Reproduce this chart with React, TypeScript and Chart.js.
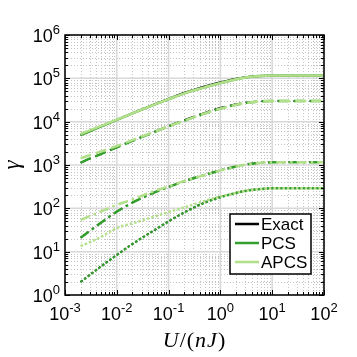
import React, { useEffect, useRef } from "react";
import { Chart, registerables } from "chart.js";
Chart.register(...registerables);

const X_VALUES = [0.002, 0.003, 0.005, 0.01, 0.02, 0.05, 0.1, 0.2, 0.5, 1, 2, 3, 5, 10, 20, 50, 100];

const SOLID_EXACT = [4900, 6000, 7800, 11000, 15600, 24500, 34000, 47000, 66000, 82000, 99000, 107000, 113000, 117000, 117000, 117000, 117000];
const SOLID_PCS = [4900, 6000, 7800, 11000, 15500, 24000, 33000, 45000, 62000, 78000, 95000, 104000, 112000, 117000, 117000, 117000, 117000];
const SOLID_APCS = [5200, 6300, 8000, 11100, 15600, 24000, 33000, 45000, 62000, 78000, 95000, 104000, 112000, 117000, 117000, 117000, 117000];

const DASHED_EXACT = [1130, 1400, 1800, 2560, 3620, 5700, 8000, 10900, 16200, 21000, 25500, 27800, 29400, 30000, 30000, 30000, 30000];
const DASHED_PCS = [1130, 1400, 1800, 2550, 3600, 5600, 7800, 10500, 15500, 20000, 24500, 27000, 29000, 30000, 30000, 30000, 30000];
const DASHED_APCS = [1430, 1680, 2050, 2750, 3750, 5700, 7800, 10500, 15500, 20000, 24500, 27000, 29000, 30000, 30000, 30000, 30000];

const DASHDOT_EXACT = [21, 30, 47, 84, 135, 226, 312, 424, 598, 760, 930, 1030, 1105, 1150, 1150, 1150, 1150];
const DASHDOT_PCS = [21, 30, 47, 84, 135, 225, 310, 420, 590, 750, 920, 1020, 1100, 1150, 1150, 1150, 1150];
const DASHDOT_APCS = [54, 66, 85, 120, 160, 245, 320, 425, 590, 750, 920, 1020, 1100, 1150, 1150, 1150, 1150];

const DOTTED_EXACT = [2.0, 2.9, 4.6, 8.4, 15, 30, 50, 81, 137, 183, 228, 254, 274, 290, 290, 290, 290];
const DOTTED_PCS = [2.0, 2.9, 4.6, 8.4, 15, 30, 50, 80, 135, 180, 225, 252, 272, 290, 290, 290, 290];
const DOTTED_APCS = [13.5, 16.5, 22, 35, 45, 63, 82, 105, 148, 188, 228, 254, 273, 290, 290, 290, 290];

const X_TICK_EXPONENTS = [-3, -2, -1, 0, 1, 2];
const Y_TICK_EXPONENTS = [0, 1, 2, 3, 4, 5, 6];
const LEGEND_LABELS = ["Exact", "PCS", "APCS"];
const Y_TITLE = "γ";
const X_TITLE_PARTS: [string, boolean][] = [["U", true], ["/", false], ["(", false], ["n", true], ["J", true], [")", false]];

const C_EXACT = "#000000";
const C_PCS = "#33a02c";
const C_APCS = "#b2df8a";
const LEGEND_COLORS = [C_EXACT, C_PCS, C_APCS];

const SANS = '"Liberation Sans", Arial, Helvetica, sans-serif';
const SERIF = '"Liberation Serif", "Times New Roman", serif';

function pts(ys: number[]) {
  return X_VALUES.map((x, i) => ({ x, y: ys[i] }));
}

function ds(label: string, ys: number[], color: string, dash: number[], width: number) {
  return {
    label,
    data: pts(ys),
    borderColor: color,
    backgroundColor: color,
    borderWidth: width,
    borderDash: dash,
    pointRadius: 0,
    fill: false,
    cubicInterpolationMode: "monotone" as const,
  };
}

const DASH_SOLID: number[] = [];
const DASH_DASHED = [11, 5];
const DASH_DASHDOT = [10, 4, 2.5, 4];
const DASH_DOTTED = [2.5, 2];

function gridValues(minExp: number, maxExp: number) {
  const out: { v: number; major: boolean }[] = [];
  for (let d = minExp; d <= maxExp; d++) {
    for (let m = 1; m <= 9; m++) {
      const v = m * Math.pow(10, d);
      if (d === maxExp && m > 1) break;
      out.push({ v, major: m === 1 });
    }
  }
  return out;
}

const axesPlugin = {
  id: "matlabAxes",
  beforeDatasetsDraw(chart: any) {
    const { ctx, chartArea: a, scales } = chart;
    const xs = scales.x, ys = scales.y;
    ctx.save();
    ctx.fillStyle = "#ffffff";
    ctx.fillRect(a.left, a.top, a.right - a.left, a.bottom - a.top);
    const xg = gridValues(-3, 2);
    const yg = gridValues(0, 6);
    ctx.lineWidth = 1;
    ctx.strokeStyle = "#c4c4c4";
    ctx.setLineDash([1, 2]);
    for (const g of xg) {
      if (g.major) continue;
      const p = Math.round(xs.getPixelForValue(g.v)) + 0.5;
      ctx.beginPath(); ctx.moveTo(p, a.top); ctx.lineTo(p, a.bottom); ctx.stroke();
    }
    for (const g of yg) {
      if (g.major) continue;
      const p = Math.round(ys.getPixelForValue(g.v)) + 0.5;
      ctx.beginPath(); ctx.moveTo(a.left, p); ctx.lineTo(a.right, p); ctx.stroke();
    }
    ctx.setLineDash([]);
    ctx.strokeStyle = "#d8d8d8";
    ctx.lineWidth = 1.5;
    for (const g of xg) {
      if (!g.major) continue;
      const p = xs.getPixelForValue(g.v);
      ctx.beginPath(); ctx.moveTo(p, a.top); ctx.lineTo(p, a.bottom); ctx.stroke();
    }
    for (const g of yg) {
      if (!g.major) continue;
      const p = ys.getPixelForValue(g.v);
      ctx.beginPath(); ctx.moveTo(a.left, p); ctx.lineTo(a.right, p); ctx.stroke();
    }
    ctx.restore();
  },
  afterDatasetsDraw(chart: any) {
    const { ctx, chartArea: a, scales } = chart;
    const xs = scales.x, ys = scales.y;
    ctx.save();
    ctx.setLineDash([]);
    ctx.strokeStyle = "#000";
    ctx.lineWidth = 1;
    const xg = gridValues(-3, 2);
    const yg = gridValues(0, 6);
    for (const g of xg) {
      const p = Math.round(xs.getPixelForValue(g.v)) + 0.5;
      const len = g.major ? 5 : 3;
      ctx.beginPath();
      ctx.moveTo(p, a.bottom); ctx.lineTo(p, a.bottom - len);
      ctx.moveTo(p, a.top); ctx.lineTo(p, a.top + len);
      ctx.stroke();
    }
    for (const g of yg) {
      const p = Math.round(ys.getPixelForValue(g.v)) + 0.5;
      const len = g.major ? 5 : 3;
      ctx.beginPath();
      ctx.moveTo(a.left, p); ctx.lineTo(a.left + len, p);
      ctx.moveTo(a.right, p); ctx.lineTo(a.right - len, p);
      ctx.stroke();
    }
    ctx.lineWidth = 1.5;
    ctx.strokeRect(a.left, a.top, a.right - a.left, a.bottom - a.top);

    ctx.fillStyle = "#000";
    ctx.textBaseline = "alphabetic";
    ctx.textAlign = "left";
    const baseFont = `18px ${SANS}`;
    const expFont = `13px ${SANS}`;
    const drawPow = (exp: number, x: number, baseY: number, mode: "center" | "right") => {
      const es = String(exp);
      ctx.font = baseFont;
      const wb = ctx.measureText("10").width;
      ctx.font = expFont;
      const we = ctx.measureText(es).width;
      const total = wb + we;
      const sx = mode === "center" ? x - total / 2 : x - total;
      ctx.font = baseFont;
      ctx.fillText("10", sx, baseY);
      ctx.font = expFont;
      ctx.fillText(es, sx + wb, baseY - 8);
    };
    for (const e of X_TICK_EXPONENTS) {
      const p = xs.getPixelForValue(Math.pow(10, e));
      drawPow(e, p, a.bottom + 25, "center");
    }
    for (const e of Y_TICK_EXPONENTS) {
      const p = ys.getPixelForValue(Math.pow(10, e));
      drawPow(e, a.left - 5, p + 7, "right");
    }

    ctx.save();
    ctx.translate(19, (a.top + a.bottom) / 2);
    ctx.rotate(-Math.PI / 2);
    ctx.font = `italic 23px ${SERIF}`;
    ctx.textAlign = "center";
    ctx.textBaseline = "alphabetic";
    ctx.fillText(Y_TITLE, 0, 0);
    ctx.restore();

    ctx.textAlign = "left";
    const tf = 22;
    let tw = 0;
    for (const [s, it] of X_TITLE_PARTS) {
      ctx.font = `${it ? "italic " : ""}${tf}px ${SERIF}`;
      tw += ctx.measureText(s).width + 1;
    }
    let tx = (a.left + a.right) / 2 - tw / 2;
    for (const [s, it] of X_TITLE_PARTS) {
      ctx.font = `${it ? "italic " : ""}${tf}px ${SERIF}`;
      ctx.fillText(s, tx, a.bottom + 52);
      tx += ctx.measureText(s).width + 1;
    }

    const lx = 230, ly = 214, lw = 81, lh = 60;
    ctx.fillStyle = "#fff";
    ctx.fillRect(lx, ly, lw, lh);
    ctx.strokeStyle = "#000";
    ctx.lineWidth = 1.5;
    ctx.strokeRect(lx, ly, lw, lh);
    ctx.font = `17px ${SANS}`;
    ctx.textBaseline = "middle";
    LEGEND_LABELS.forEach((lab, i) => {
      const y = ly + 10 + i * 19;
      ctx.strokeStyle = LEGEND_COLORS[i];
      ctx.lineWidth = 2.5;
      ctx.beginPath(); ctx.moveTo(lx + 5, y); ctx.lineTo(lx + 29, y); ctx.stroke();
      ctx.fillStyle = "#000";
      ctx.fillText(lab, lx + 31, y + 1);
    });
    ctx.restore();
  },
};

export default function App() {
  const ref = useRef<HTMLCanvasElement | null>(null);
  useEffect(() => {
    if (!ref.current) return;
    const datasets = [
      ds("APCS", SOLID_APCS, C_APCS, DASH_SOLID, 2.5),
      ds("PCS", SOLID_PCS, C_PCS, DASH_SOLID, 2.5),
      ds("Exact", SOLID_EXACT, C_EXACT, DASH_SOLID, 1.5),
      ds("APCS", DASHED_APCS, C_APCS, DASH_DASHED, 2.5),
      ds("PCS", DASHED_PCS, C_PCS, DASH_DASHED, 2.5),
      ds("Exact", DASHED_EXACT, C_EXACT, DASH_DASHED, 1.5),
      ds("APCS", DASHDOT_APCS, C_APCS, DASH_DASHDOT, 2.5),
      ds("PCS", DASHDOT_PCS, C_PCS, DASH_DASHDOT, 2.5),
      ds("Exact", DASHDOT_EXACT, C_EXACT, DASH_DASHDOT, 1.5),
      ds("APCS", DOTTED_APCS, C_APCS, DASH_DOTTED, 2.5),
      ds("PCS", DOTTED_PCS, C_PCS, DASH_DOTTED, 2.5),
      ds("Exact", DOTTED_EXACT, C_EXACT, DASH_DOTTED, 1.5),
    ];
    const chart = new Chart(ref.current, {
      type: "line",
      data: { datasets },
      options: {
        animation: false,
        responsive: false,
        maintainAspectRatio: false,
        layout: { padding: { left: 65, top: 35, right: 33, bottom: 62 } },
        plugins: { legend: { display: false }, tooltip: { enabled: false } },
        scales: {
          x: { type: "logarithmic", min: 0.001, max: 100, display: false },
          y: { type: "logarithmic", min: 1, max: 1e6, display: false },
        },
      },
      plugins: [axesPlugin],
    });
    return () => chart.destroy();
  }, []);
  return (
    <div style={{ position: "absolute", left: 0, top: 0, width: 357, height: 357, background: "#fff" }}>
      <canvas ref={ref} width={357} height={357} style={{ width: 357, height: 357, display: "block" }} />
    </div>
  );
}
